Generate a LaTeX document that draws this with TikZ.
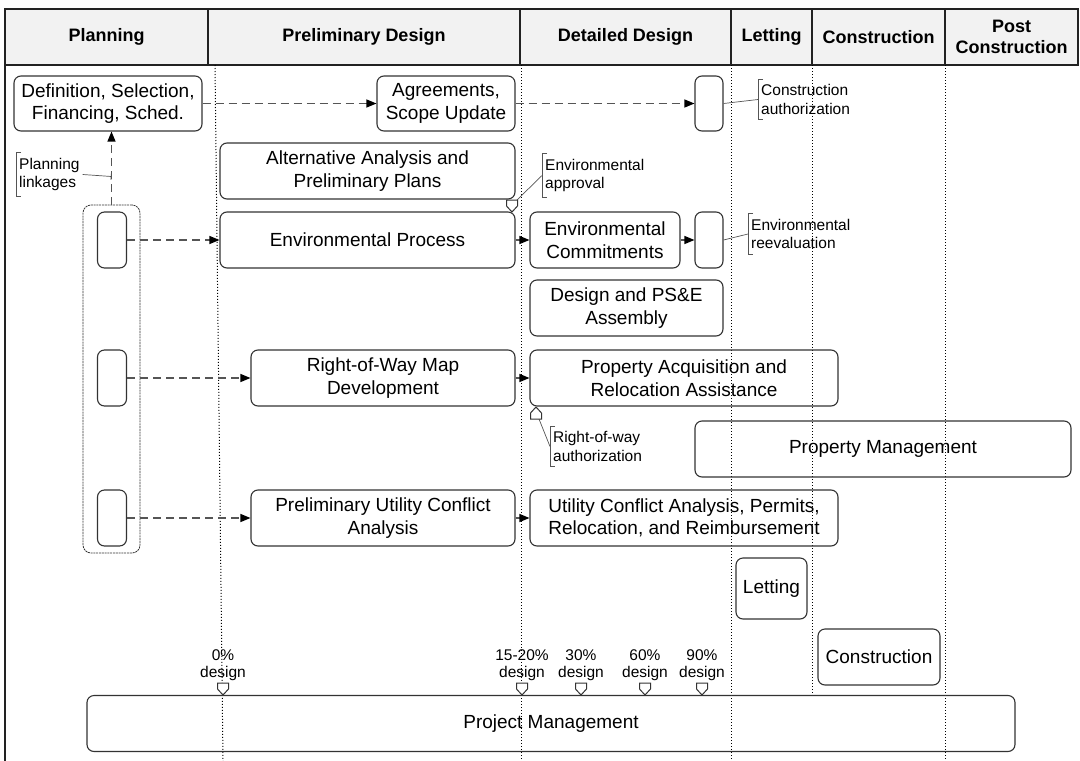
\documentclass[tikz,border=0pt]{standalone}
\usepackage{fontspec}
\setmainfont{Liberation Sans}
\usetikzlibrary{arrows.meta,calc}
\definecolor{boxc}{HTML}{333333}
\definecolor{arrc}{HTML}{555555}
\definecolor{hdrfill}{HTML}{F2F2F2}
\definecolor{linec}{HTML}{222222}
\newcommand\brkt[1]{\draw[brk] ([xshift=5pt]#1.north west) -- (#1.north west) -- (#1.south west) -- ([xshift=5pt]#1.south west);}
\begin{document}
\begin{tikzpicture}[x=1pt,y=-1pt,
  box/.style={draw=boxc, line width=1.1pt, rounded corners=7pt, align=center, inner sep=0pt, font=\fontsize{19}{22.5}\selectfont},
  hdrtxt/.style={font=\fontsize{18}{21}\selectfont\bfseries, align=center, inner sep=0pt},
  note/.style={font=\fontsize{15.5}{18.5}\selectfont, align=left, anchor=west, inner xsep=3pt, inner ysep=5pt},
  brk/.style={draw=arrc, line width=0.8pt},
  lead/.style={draw=arrc, line width=0.7pt},
  dasharrow/.style={draw=arrc, line width=1.2pt, dash pattern=on 8pt off 5pt, -{Triangle[length=10pt,width=8pt,color=black]}},
  solidarrow/.style={draw=arrc, line width=1.2pt, -{Triangle[length=10pt,width=8pt,color=black]}},
  vgrid/.style={draw=black, line width=1pt, dotted},
  flag/.style={draw=boxc, fill=white, line width=1pt},
  dlbl/.style={font=\fontsize{15.5}{17}\selectfont, align=center, inner sep=0pt},
  grpbox/.style={draw=boxc, line width=0.8pt, dash pattern=on 2pt off 0.8pt, rounded corners=8pt, inner sep=0pt}
]
\useasboundingbox (0,0) rectangle (1080,761);

% header
\draw[line width=1.5pt, draw=linec, fill=hdrfill] (5,9) rectangle (1078,65);
\foreach \x in {208,520,731,812,945} \draw[line width=1.5pt, draw=linec] (\x,9) -- (\x,65);
\draw[line width=1.5pt, draw=linec] (5,65) -- (5,761);
\node[hdrtxt] (hplan) at (106.5,37) {Planning};
\node[hdrtxt] (hprel) at (364,37) {Preliminary Design};
\node[hdrtxt] (hdet) at (625.5,37) {Detailed Design};
\node[hdrtxt] (hlet) at (771.5,37) {Letting};
\node[hdrtxt] (hcon) at (878.5,37) {Construction};
\node[hdrtxt] (hpost) at (1011.5,37) {Post\\Construction};

% dotted phase lines
\draw[vgrid] (215,65) -- (223,761);
\draw[vgrid] (521,65) -- (521,761);
\draw[vgrid] (731,65) -- (731,761);
\draw[vgrid] (812,65) -- (812,695);
\draw[vgrid] (945,65) -- (945,761);

% boxes
\node[box, minimum width=188pt, minimum height=55pt] (defn) at (108,103.5) {Definition, Selection,\\Financing, Sched.};
\node[box, minimum width=138pt, minimum height=55pt] (agree) at (446,103.5) {Agreements,\\Scope Update};
\node[box, minimum width=28pt, minimum height=55pt] (ca) at (709,103.5) {};
\node[box, minimum width=295pt, minimum height=56pt] (alt) at (367.5,171) {Alternative Analysis and\\Preliminary Plans};
\node[box, minimum width=295pt, minimum height=56pt] (envp) at (367.5,240) {Environmental Process};
\node[box, minimum width=150pt, minimum height=56pt] (envc) at (605,240) {Environmental\\Commitments};
\node[box, minimum width=28pt, minimum height=56pt] (er) at (709,240) {};
\node[box, minimum width=193pt, minimum height=56pt] (pse) at (626.5,308) {Design and PS\&E\\Assembly};
\node[box, minimum width=264pt, minimum height=56pt] (rowm) at (383,378) {Right-of-Way Map\\Development};
\node[box, minimum width=308pt, minimum height=56pt] (pacq) at (684,378) {Property Acquisition and\\Relocation Assistance};
\node[box, minimum width=376pt, minimum height=56pt] (pmgmt) at (883,449) {Property Management};
\node[box, minimum width=264pt, minimum height=56pt] (pucl) at (383,518) {Preliminary Utility Conflict\\Analysis};
\node[box, minimum width=308pt, minimum height=56pt] (ucl) at (684,518) {Utility Conflict Analysis, Permits,\\Relocation, and Reimbursement};
\node[box, minimum width=71pt, minimum height=61pt] (let) at (771.5,588.5) {Letting};
\node[box, minimum width=122pt, minimum height=56pt] (constr) at (879,657) {Construction};
\node[box, minimum width=928pt, minimum height=56pt] (pm) at (551,723.5) {Project Management};

% planning linkages group
\node[grpbox, minimum width=57pt, minimum height=348pt] (grp) at (111.5,379) {};
\node[box, minimum width=29pt, minimum height=56pt] (sb1) at (112,240) {};
\node[box, minimum width=29pt, minimum height=56pt] (sb2) at (112,378) {};
\node[box, minimum width=29pt, minimum height=56pt] (sb3) at (112,518) {};

% connectors
\draw[dasharrow] (defn) -- (agree);
\draw[dasharrow] (agree) -- (ca);
\draw[dasharrow] (grp.north) -- (grp.north |- defn.south);
\draw[dasharrow] (sb1) -- (envp);
\draw[dasharrow] (sb2) -- (rowm);
\draw[dasharrow] (sb3) -- (pucl);
\draw[solidarrow] (envp) -- (envc);
\draw[solidarrow] (envc) -- (er);
\draw[solidarrow] (rowm) -- (pacq);
\draw[solidarrow] (pucl) -- (ucl);

% annotations
\node[note] (plk) at (16,174.5) {Planning\\linkages};
\brkt{plk}
\draw[lead, -{Bar[width=7pt]}] (plk.east) -- (111.5,176.5);

\node[note] (calbl) at (758,99.5) {Construction\\authorization};
\brkt{calbl}
\draw[lead] (ca.east) -- (calbl.west);

\node[note] (erlbl) at (748,234) {Environmental\\reevaluation};
\brkt{erlbl}
\draw[lead] (er.east) -- (erlbl.west);

\node[note] (eapp) at (542,175.5) {Environmental\\approval};
\brkt{eapp}
\coordinate (eam) at (512,212);
\draw[lead] ($(eam)+(4,-11)$) -- (eapp.west);
\draw[flag] (eam) -- ++(-5.5,-6) -- ++(0,-6) -- ++(11,0) -- ++(0,6) -- cycle;

\node[note] (rauth) at (550,446.5) {Right-of-way\\authorization};
\brkt{rauth}
\coordinate (ram) at (536,407);
\draw[lead] ($(ram)+(3,12)$) -- (rauth.west);
\draw[flag] (ram) -- ++(5.5,6) -- ++(0,6) -- ++(-11,0) -- ++(0,-6) -- cycle;

% design milestones
\foreach \x/\t/\n in {223/0\%/d0, 522/15-20\%/d1, 581/30\%/d2, 645/60\%/d3, 702/90\%/d4}{
  \coordinate (\n) at (\x,695);
  \draw[flag] (\n) -- ++(-5.5,-6) -- ++(0,-6) -- ++(11,0) -- ++(0,6) -- cycle;
  \node[dlbl] (\n l) at (\x,665) {\t\\design};
}
\end{tikzpicture}
\end{document}
